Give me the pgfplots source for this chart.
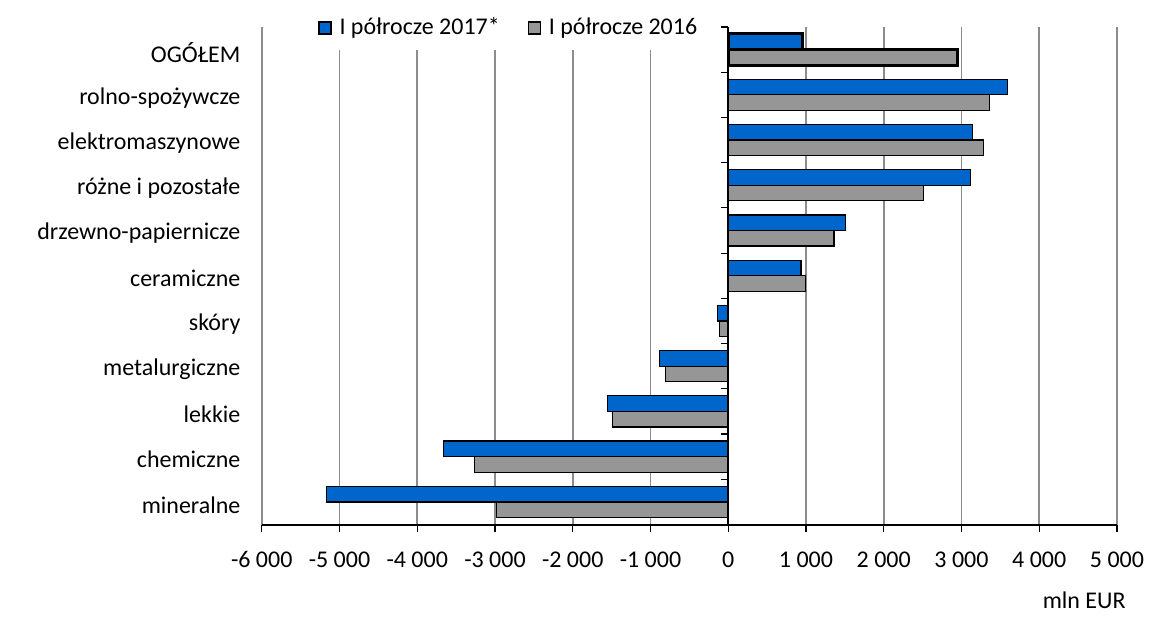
\documentclass[border=0pt]{standalone}
\usepackage{fontspec}
\setmainfont{Carlito}
\usepackage{pgfplots}
\pgfplotsset{compat=1.18}
\definecolor{blu}{HTML}{0066CC}
\definecolor{gry}{HTML}{969696}
\definecolor{grd}{HTML}{8C8C8C}

\begin{document}
\fontsize{12}{14}\selectfont
\begin{tikzpicture}
\begin{axis}[
  name=ax,
  scale only axis,
  width=428pt, height=249pt,
  xmin=-6000, xmax=5000,
  ymin=-0.5, ymax=10.5,
  xtick={-6000,-5000,...,5000},
  ytick={0,...,10},
  yticklabels={mineralne,chemiczne,lekkie,metalurgiczne,skóry,ceramiczne,drzewno-papiernicze,różne i pozostałe,elektromaszynowe,rolno-spożywcze,OGÓŁEM},
  axis x line*=bottom,
  axis y line*=left,
  y axis line style={draw=none},
  ytick style={draw=none},
  x axis line style={line width=1pt,-},
  xtick style={black,line width=0.6pt},
  tick align=outside,
  major tick length=3.5pt,
  xmajorgrids,
  major grid style={grd,line width=0.8pt},
  /pgf/number format/assume math mode=true,
  /pgf/number format/1000 sep={\ },
  xticklabel style={anchor=base,yshift=-18pt},
  yticklabel style={anchor=east,xshift=-3pt,yshift=-1.5pt},
  xbar, bar width=7.8pt,
  legend style={at={(rel axis cs:0.29,1)},anchor=center,yshift=-0.5pt,
    draw=none,fill=white,legend columns=2,
    /tikz/every even column/.append style={column sep=12pt},
    inner xsep=2pt, inner ysep=4pt},
  legend image code/.code={\draw[#1,line width=0.6pt] (0pt,-3pt) rectangle (6pt,3pt); \path (8pt,0pt);},
  clip=false,
]
\addplot[draw=black,line width=0.6pt,fill=blu,bar shift=3.9pt] coordinates
  {(3590,9) (3140,8) (3115,7) (1510,6) (935,5) (-140,4) (-885,3) (-1550,2) (-3660,1) (-5170,0)};
\addplot[draw=black,line width=0.6pt,fill=gry,bar shift=-3.9pt] coordinates
  {(3360,9) (3280,8) (2510,7) (1360,6) (990,5) (-115,4) (-810,3) (-1490,2) (-3265,1) (-2985,0)};
\addplot[draw=black,line width=1.5pt,fill=blu,bar shift=3.9pt,forget plot] coordinates {(960,10)};
\addplot[draw=black,line width=1.5pt,fill=gry,bar shift=-3.9pt,forget plot] coordinates {(2950,10)};
\legend{I półrocze 2017*,I półrocze 2016}
\draw[black,line width=1pt] (axis cs:0,-0.5) -- (axis cs:0,10.5);
\pgfplotsinvokeforeach{0,...,11}{
  \draw[black,line width=0.6pt] ([xshift=-3.5pt]axis cs:0,#1-0.5) -- (axis cs:0,#1-0.5);
}
\node[anchor=base east] at ([xshift=8.5pt,yshift=-42pt]rel axis cs:1,0) {mln EUR};
\end{axis}
\path ([xshift=-131pt,yshift=13.5pt]ax.north west) rectangle ([xshift=17pt,yshift=-46.5pt]ax.south east);
\end{tikzpicture}
\end{document}
